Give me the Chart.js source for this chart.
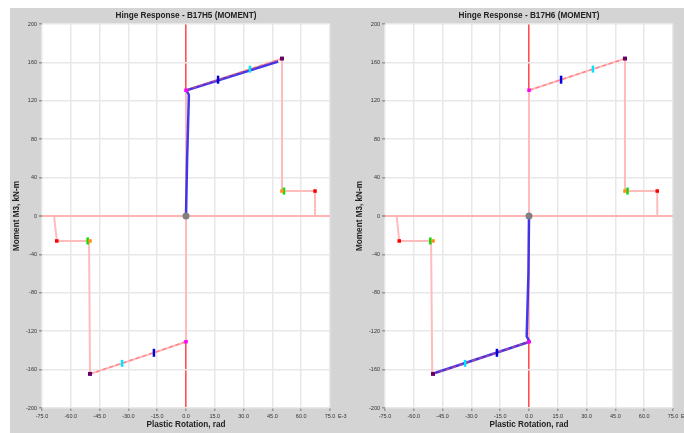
<!DOCTYPE html>
<html>
<head>
<meta charset="utf-8">
<script src="https://cdn.jsdelivr.net/npm/chart.js@4/dist/chart.umd.min.js"></script>
<style>
  body { margin: 0; width: 684px; height: 433px; background: #fff; position: relative; overflow: hidden; }
  #bg { position: absolute; left: 10px; top: 8px; width: 674px; height: 425px; background: #d4d4d4; }
  .panel { position: absolute; top: 8px; height: 425px; }
</style>
</head>
<body>
<div id="bg"></div>
<div class="panel" style="left:10px;width:340px"><canvas id="chart-h5" width="340" height="425"></canvas></div>
<div class="panel" style="left:353px;width:331px"><canvas id="chart-h6" width="331" height="425"></canvas></div>
<script>
// axis ticks
const xTickValues = [-75, -60, -45, -30, -15, 0, 15, 30, 45, 60, 75];
const yTickValues = [-200, -160, -120, -80, -40, 0, 40, 80, 120, 160, 200];

// B17H5 - backbone curve (rotation E-3 rad, moment kN-m)
const h5BackboneRot = [-68.7, -67.3, -50.5, -50, -33.3, -16.7, 0, 0, 16.7, 33.3, 50, 50, 67.2, 67.2];
const h5BackboneMom = [0, -26, -26, -164.5, -153.5, -142.5, -131, 131, 142, 153, 164, 26, 26, 0];
// B17H5 - hinge response (hysteresis)
const h5ResponseRot = [0, 0.6, 1.5, 0.3, 48];
const h5ResponseMom = [0, 60, 126, 131, 161];
// B17H5 - markers
const h5RedRot = [67.2, -67.3];
const h5GreenRot = [51, -51.2];

// B17H6
const h6BackboneRot = [-68.9, -67.6, -51, -50.4, -33.3, -16.7, 0, 0, 16.7, 33.3, 50, 50, 66.8, 66.8];
const h6BackboneMom = [0, -26, -26, -164.5, -153.5, -142.5, -131, 131, 142, 153, 164, 26, 26, 0];
const h6ResponseRot = [0, -0.3, -1.2, 0.3, -49];
const h6ResponseMom = [0, -60, -125.5, -131, -163.5];
const h6RedRot = [66.8, -67.6];
const h6GreenRot = [51.3, -51.4];

// shared acceptance points
const yieldRot = [0, 0];
const yieldMom = [131, -131];
const ioRot = [16.7, -16.7];
const ioMom = [142, -142.5];
const lsRot = [33.3, -33.3];
const lsMom = [153, -153.5];
const cpRot = [50, -50];
const cpMom = [164, -164.5];
const residualRot = [50, -50];
const residualMom = [26, -26];
const posBranchRot = [0, 50];
const posBranchMom = [131, 164];
const negBranchRot = [0, -50];
const negBranchMom = [-131, -164.5];

Chart.defaults.font.family = '"Liberation Sans", Arial, sans-serif';
Chart.defaults.color = '#333';

function pts(xs, ys) {
    return xs.map((x, i) => ({ x: x, y: ys[i] }));
}

function marker(xs, ys, style, color, radius, width, order) {
    return {
        data: pts(xs, ys),
        showLine: false,
        pointStyle: style,
        rotation: style === 'line' ? 90 : 0,
        pointRadius: radius,
        pointBackgroundColor: color,
        pointBorderColor: color,
        pointBorderWidth: width,
        order: order
    };
}

function line(xs, ys, color, width, dash, order) {
    return {
        data: pts(xs, ys),
        showLine: true,
        borderColor: color,
        borderWidth: width,
        borderDash: dash,
        pointRadius: 0,
        order: order
    };
}

const panelPlugin = {
    id: 'panel',
    beforeDraw(chart) {
        const a = chart.chartArea;
        const c = chart.ctx;
        c.save();
        c.fillStyle = '#fff';
        c.fillRect(a.left, a.top, a.right - a.left, a.bottom - a.top);
        c.restore();
    },
    afterDraw(chart) {
        const a = chart.chartArea;
        const c = chart.ctx;
        c.save();
        c.fillStyle = '#222';
        c.font = 'bold 8.2px "Liberation Sans", Arial, sans-serif';
        c.textAlign = 'center';
        c.textBaseline = 'middle';
        c.fillText(chart.options.panelTitle, (a.left + a.right) / 2, 7.5);
        c.font = '5.5px "Liberation Sans", Arial, sans-serif';
        c.fillStyle = '#333';
        c.textAlign = 'left';
        c.fillText('E-3', a.right + 8, a.bottom + 8.5);
        c.restore();
    }
};

function makePanel(id, title, backRot, backMom, respRot, respMom, redRot, greenRot, padRight) {
    const datasets = [
        marker([0], [0], 'circle', '#808080', 3.5, 0, 0),
        marker(yieldRot, yieldMom, 'rect', '#ff00ff', 2.5, 0, 1),
        marker(ioRot, ioMom, 'line', '#0000e0', 4, 2.5, 1),
        marker(lsRot, lsMom, 'line', '#00e5ff', 3.5, 2.5, 1),
        marker(cpRot, cpMom, 'rect', '#660066', 2.8, 0, 1),
        marker(greenRot, residualMom, 'line', '#00e000', 3.5, 2.5, 2),
        marker(residualRot, residualMom, 'rect', '#ff8c1a', 2.5, 0, 1),
        marker(redRot, residualMom, 'rect', '#ff0000', 2.5, 0, 1),
        line(posBranchRot, posBranchMom, 'rgba(255,90,90,0.55)', 1.5, [4, 3], 3),
        line(negBranchRot, negBranchMom, 'rgba(255,90,90,0.55)', 1.5, [4, 3], 3),
        line(respRot, respMom, 'rgba(40,30,235,0.88)', 2.5, [], 4),
        line(backRot, backMom, '#ffbcbc', 2, [], 5)
    ];

    return new Chart(document.getElementById(id).getContext('2d'), {
        type: 'scatter',
        data: { datasets: datasets },
        plugins: [panelPlugin],
        options: {
            panelTitle: title,
            responsive: false,
            animation: false,
            devicePixelRatio: 1,
            layout: { padding: { top: 16, right: padRight, left: 0, bottom: 0 } },
            plugins: { legend: { display: false }, tooltip: { enabled: false } },
            scales: {
                x: {
                    type: 'linear',
                    min: -75,
                    max: 75,
                    afterBuildTicks: s => { s.ticks = xTickValues.map(v => ({ value: v })); },
                    afterFit: s => { s.height = 25; },
                    border: { display: false },
                    grid: {
                        color: ctx => ctx.tick && ctx.tick.value === 0 ? '#ff5050' : '#e8e8e8',
                        lineWidth: ctx => ctx.tick && ctx.tick.value === 0 ? 1.6 : 1.5,
                        tickLength: 3,
                        tickColor: '#999'
                    },
                    ticks: {
                        autoSkip: false,
                        maxRotation: 0,
                        padding: 2,
                        color: '#333',
                        font: { size: 5.5 },
                        callback: v => v.toFixed(1)
                    },
                    title: {
                        display: true,
                        text: 'Plastic Rotation, rad',
                        color: '#222',
                        font: { size: 8.2, weight: 'bold' },
                        padding: { top: 0, bottom: 3 }
                    }
                },
                y: {
                    type: 'linear',
                    min: -200,
                    max: 200,
                    afterBuildTicks: s => { s.ticks = yTickValues.map(v => ({ value: v })); },
                    afterFit: s => { s.width = 32; },
                    border: { display: false },
                    grid: {
                        color: ctx => ctx.tick && ctx.tick.value === 0 ? '#ffb4b4' : '#e8e8e8',
                        lineWidth: ctx => ctx.tick && ctx.tick.value === 0 ? 2 : 1.5,
                        tickLength: 3,
                        tickColor: '#999'
                    },
                    ticks: {
                        autoSkip: false,
                        padding: 2,
                        color: '#333',
                        font: { size: 5.5 },
                        callback: v => String(v)
                    },
                    title: {
                        display: true,
                        text: 'Moment M3, kN-m',
                        color: '#222',
                        font: { size: 8.2, weight: 'bold' },
                        padding: { top: 2, bottom: 0 }
                    }
                }
            }
        }
    });
}

makePanel('chart-h5', 'Hinge Response - B17H5 (MOMENT)', h5BackboneRot, h5BackboneMom,
    h5ResponseRot, h5ResponseMom, h5RedRot, h5GreenRot, 20);
makePanel('chart-h6', 'Hinge Response - B17H6 (MOMENT)', h6BackboneRot, h6BackboneMom,
    h6ResponseRot, h6ResponseMom, h6RedRot, h6GreenRot, 11);
</script>
</body>
</html>
